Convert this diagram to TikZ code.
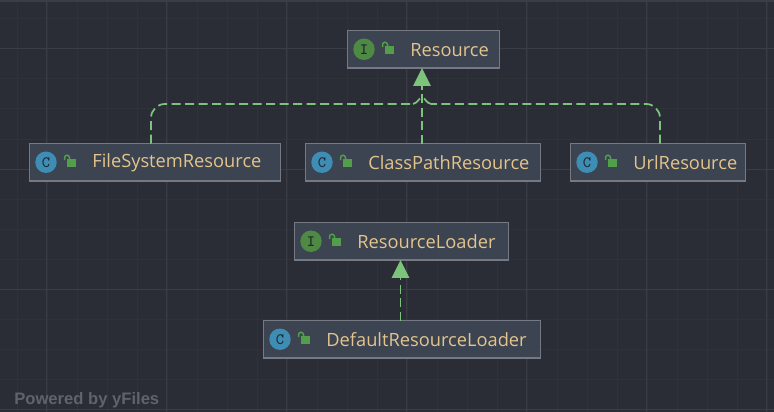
\documentclass[tikz,border=0pt]{standalone}
\usepackage{fontspec}
\setmainfont{Open Sans}
\newfontfamily\yfont{Liberation Sans}
\usetikzlibrary{arrows.meta,calc,positioning}
\definecolor{canvasbg}{HTML}{2A2D35}
\definecolor{topband}{HTML}{393D47}
\definecolor{gridminor}{HTML}{2F3239}
\definecolor{gridmajor}{HTML}{3A3D43}
\definecolor{boxfill}{HTML}{3C4351}
\definecolor{boxedge}{HTML}{747983}
\definecolor{nametext}{HTML}{E3C48C}
\definecolor{implgreen}{HTML}{7CC47C}
\definecolor{ifacegreen}{HTML}{4F8A45}
\definecolor{classblue}{HTML}{3E8DB5}
\definecolor{lockgreen}{HTML}{529E4A}
\definecolor{icontext}{HTML}{24282E}
\definecolor{wmgray}{HTML}{5F636A}

\begin{document}
\begin{tikzpicture}[
  x=0.02cm, y=-0.02cm,
  typebox/.style={draw=boxedge, fill=boxfill, line width=0.028cm, minimum height=0.75cm, inner sep=0pt, outer sep=0pt, anchor=north west},
  typename/.style={font=\fontsize{10.4}{12}\selectfont, text=nametext, inner sep=0pt, anchor=west},
  badge/.style={circle, minimum size=0.43cm, inner sep=0pt, font=\fontsize{9}{9}\ttfamily, text=icontext},
  impl/.style={draw=implgreen, line width=0.035cm, dash pattern=on 0.18cm off 0.09cm},
  impltip/.style={-{Triangle[length=0.36cm,width=0.35cm,fill=implgreen]}},
]
\useasboundingbox (0,0) rectangle (774,412);
\fill[canvasbg] (0,0) rectangle (774,412);

% grid
\foreach \x in {17,47,...,767} {
  \draw[gridminor, line width=0.02cm] (\x,0) -- (\x,412);
}
\foreach \y in {19,49,...,409} {
  \draw[gridminor, line width=0.02cm] (0,\y) -- (774,\y);
}
\foreach \x in {46.5,166.5,...,766.5} {
  \draw[gridmajor, line width=0.02cm] (\x,0) -- (\x,412);
}
\foreach \y in {49,169,...,409} {
  \draw[gridmajor, line width=0.02cm] (0,\y) -- (774,\y);
}
\fill[topband] (0,0) rectangle (774,2);

% type boxes: name/left/top/width/badge/colour/label
\foreach \nm/\bx/\by/\bw/\bl/\bc/\lb in {
  resource/347.5/30.5/152/\bfseries I/ifacegreen/Resource,
  filesys/29.5/143.5/251/C/classblue/FileSystemResource,
  classpath/305.5/143.5/235/C/classblue/ClassPathResource,
  urlres/570.5/143.5/175/C/classblue/UrlResource,
  loader/294.5/222.5/214/\bfseries I/ifacegreen/ResourceLoader,
  defloader/263.5/320.5/277/C/classblue/DefaultResourceLoader%
} {
  \node[typebox, minimum width=\bw*0.02cm] (\nm) at (\bx,\by) {};
  \node[badge, fill=\bc] (\nm badge) at ([xshift=0.33cm]\nm.west) {\bl};
  \fill[lockgreen] ($(\nm.west)+(37,-3)$) rectangle ++(9,8);
  \draw[lockgreen, line width=0.03cm] ($(\nm.west)+(35,-2)$) -- ++(0,-2.5) arc (180:0:0.05cm) -- ++(0,1.5);
  \node[typename] (\nm name) at ([xshift=1.25cm,yshift=-0.01cm]\nm.west) {\lb};
}

% realization arrows
\coordinate (join) at ($(resource.south)+(-1.5,28)$);
\coordinate (fsup) at (151,143);
\coordinate (urlup) at (660,143);
\draw[impl, rounded corners=0.28cm] (filesys.north -| fsup) |- ($(join)+(-9,8)$);
\draw[impl, rounded corners=0.28cm] (urlres.north -| urlup) |- ($(join)+(9,8)$);
\draw[impl] ($(join)+(-9,8)$) to[out=0,in=90] ($(join)+(0,2)$);
\draw[impl] ($(join)+(9,8)$) to[out=180,in=90] ($(join)+(0,2)$);
\draw[impl, impltip] (classpath.north -| join) -- (resource.south -| join);
\draw[impl, impltip] (defloader.north -| 400.5,0) -- (loader.south -| 400.5,0);

\node[font=\yfont\fontsize{9.45}{11}\bfseries\selectfont, text=wmgray, inner sep=0pt, anchor=west] (poweredby) at (14,400) {Powered by yFiles};
\end{tikzpicture}
\end{document}
